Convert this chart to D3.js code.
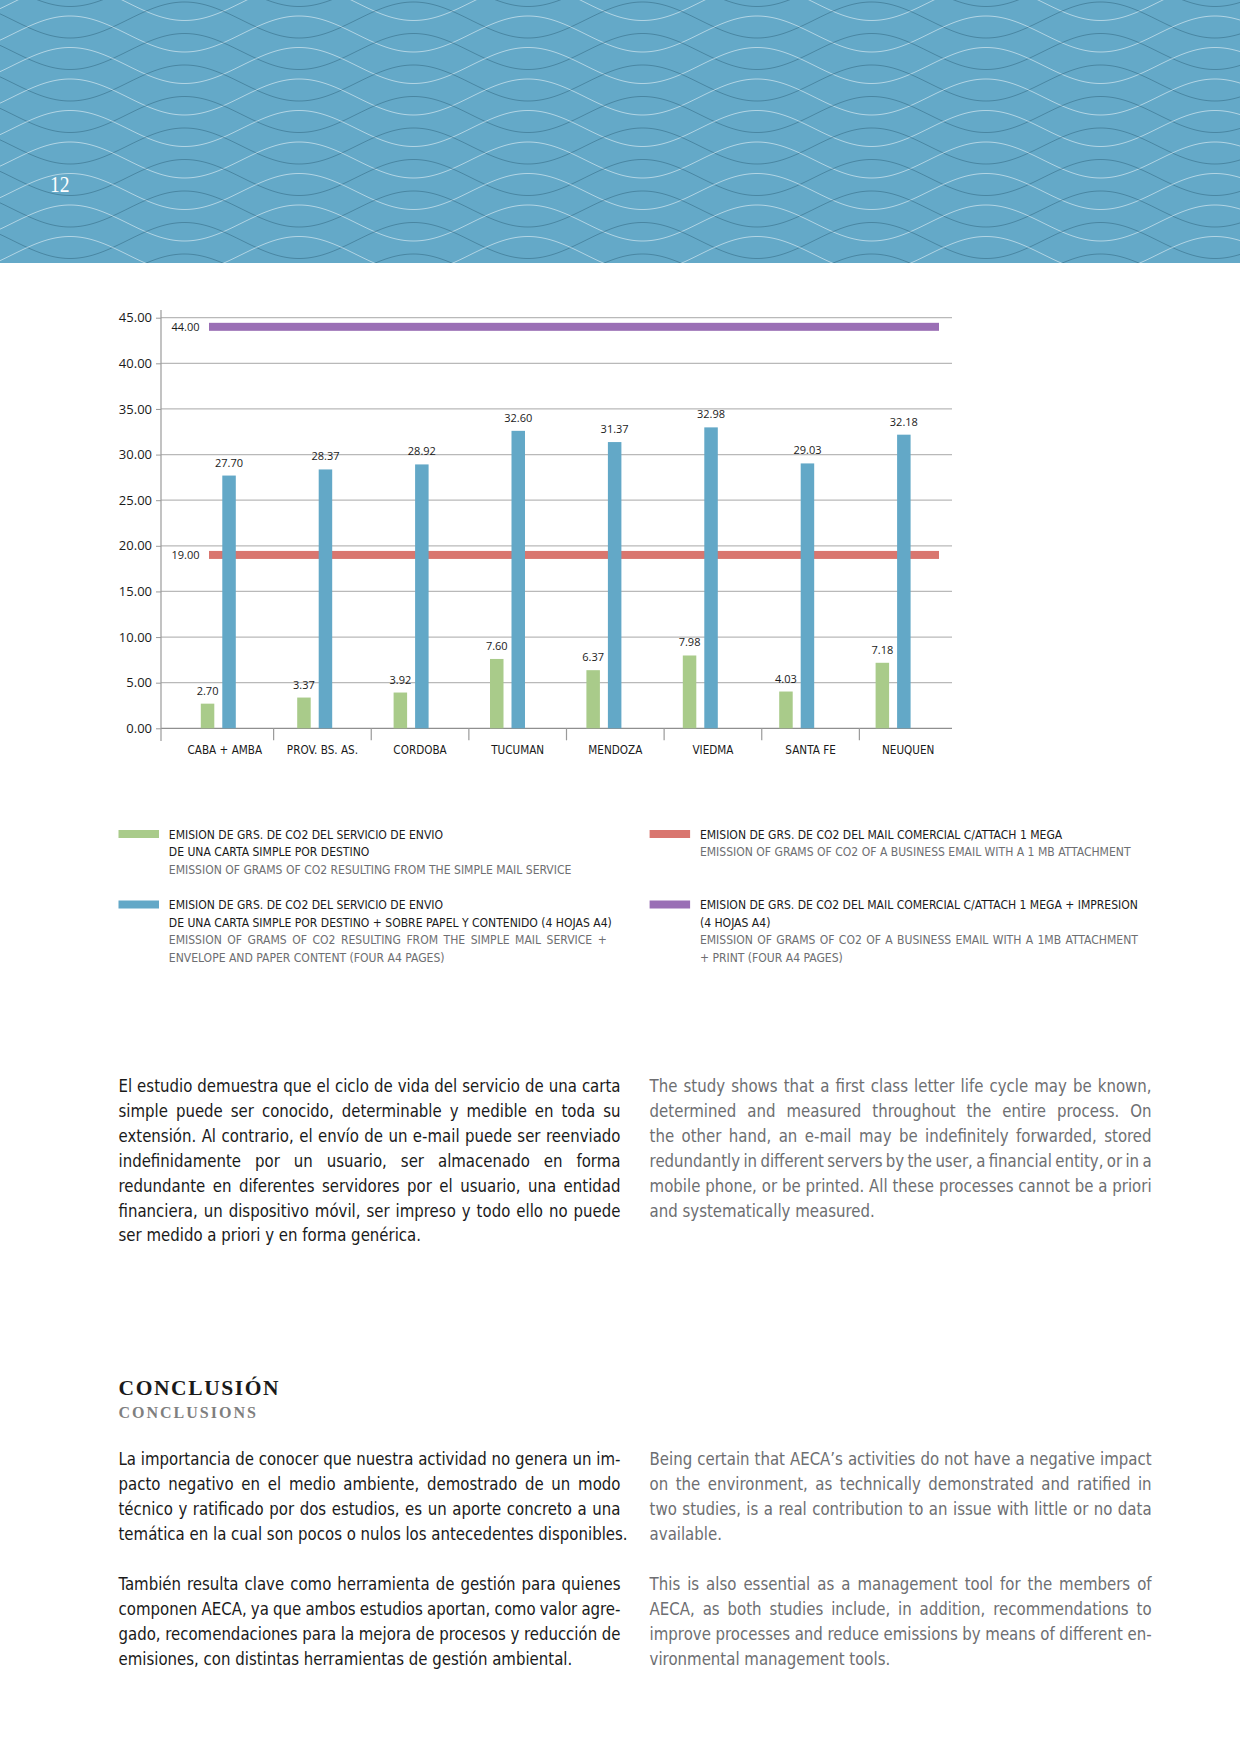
<!DOCTYPE html>
<html><head><meta charset="utf-8">
<script src="https://cdn.jsdelivr.net/npm/d3@7"></script>
<style>
html,body{margin:0;padding:0;background:#fff;}
svg{display:block;}
.cond{font-family:"Liberation Sans Narrow","Arial Narrow","DejaVu Sans Condensed",sans-serif;font-stretch:condensed;}
.num{font-family:"Open Sans","Noto Sans",sans-serif;}
.serif{font-family:"Liberation Serif","DejaVu Serif",serif;}
</style></head>
<body><svg id="page" width="1240" height="1754"></svg>
<script>
// ---------------- DATA ----------------
const categories = ["CABA + AMBA","PROV. BS. AS.","CORDOBA","TUCUMAN","MENDOZA","VIEDMA","SANTA FE","NEUQUEN"];
const simpleMail = [2.70,3.37,3.92,7.60,6.37,7.98,4.03,7.18];
const mailWithPaper = [27.70,28.37,28.92,32.60,31.37,32.98,29.03,32.18];
const emailAttach = 19.00;
const emailAttachPrint = 44.00;
const yTicks = [0,5,10,15,20,25,30,35,40,45];
const seriesKeys = ["simple","paper"];

const legendGreenEs = ["EMISION DE GRS. DE CO2 DEL SERVICIO DE ENVIO","DE UNA CARTA SIMPLE POR DESTINO"];
const legendGreenEn = ["EMISSION OF GRAMS OF CO2 RESULTING FROM THE SIMPLE MAIL SERVICE"];
const legendBlueEs = ["EMISION DE GRS. DE CO2 DEL SERVICIO DE ENVIO","DE UNA CARTA SIMPLE POR DESTINO + SOBRE PAPEL Y CONTENIDO (4 HOJAS A4)"];
const legendBlueEn = ["EMISSION OF GRAMS OF CO2 RESULTING FROM THE SIMPLE MAIL SERVICE +","ENVELOPE AND PAPER CONTENT (FOUR A4 PAGES)"];
const legendRedEs = ["EMISION DE GRS. DE CO2 DEL MAIL COMERCIAL C/ATTACH 1 MEGA"];
const legendRedEn = ["EMISSION OF GRAMS OF CO2 OF A BUSINESS EMAIL WITH A 1 MB ATTACHMENT"];
const legendPurpleEs = ["EMISION DE GRS. DE CO2 DEL MAIL COMERCIAL C/ATTACH 1 MEGA + IMPRESION","(4 HOJAS A4)"];
const legendPurpleEn = ["EMISSION OF GRAMS OF CO2 OF A BUSINESS EMAIL WITH A 1MB ATTACHMENT","+ PRINT (FOUR A4 PAGES)"];

const para1Es = ["El estudio demuestra que el ciclo de vida del servicio de una carta",
"simple puede ser conocido, determinable y medible en toda su",
"extensión. Al contrario, el envío de un e-mail puede ser reenviado",
"indefinidamente por un usuario, ser almacenado en forma",
"redundante en diferentes servidores por el usuario, una entidad",
"financiera, un dispositivo móvil, ser impreso y todo ello no puede",
"ser medido a priori y en forma genérica."];
const para1En = ["The study shows that a first class letter life cycle may be known,",
"determined and measured throughout the entire process. On",
"the other hand, an e-mail may be indefinitely forwarded, stored",
"redundantly in different servers by the user, a financial entity, or in a",
"mobile phone, or be printed. All these processes cannot be a priori",
"and systematically measured."];
const para2Es = ["La importancia de conocer que nuestra actividad no genera un im-",
"pacto negativo en el medio ambiente, demostrado de un modo",
"técnico y ratificado por dos estudios, es un aporte concreto a una",
"temática en la cual son pocos o nulos los antecedentes disponibles."];
const para3Es = ["También resulta clave como herramienta de gestión para quienes",
"componen AECA, ya que ambos estudios aportan, como valor agre-",
"gado, recomendaciones para la mejora de procesos y reducción de",
"emisiones, con distintas herramientas de gestión ambiental."];
const para2En = ["Being certain that AECA’s activities do not have a negative impact",
"on the environment, as technically demonstrated and ratified in",
"two studies, is a real contribution to an issue with little or no data",
"available."];
const para3En = ["This is also essential as a management tool for the members of",
"AECA, as both studies include, in addition, recommendations to",
"improve processes and reduce emissions by means of different en-",
"vironmental management tools."];

// ---------------- STYLE ----------------
const W = 1240;
const C = {green:"#a9cb8a", blue:"#63a8c7", red:"#d9766f", purple:"#9a6fb5", header:"#64a9c8",
           text:"#1a1a1a", grey:"#6d6e71", grid:"#b9b9b9", axis:"#9a9a9a"};
const svg = d3.select("#page");

// ---------------- HEADER ----------------
const header = svg.append("g");
svg.append("defs").append("clipPath").attr("id","hclip").append("rect").attr("width",W).attr("height",263);
header.attr("clip-path","url(#hclip)");
header.append("rect").attr("width",W).attr("height",263).attr("fill",C.header);
const P = 229, A = 18, RS = 31.5;
const xs = d3.range(-10, W + 12, 3);
const wave = (base, sign) => d3.line()(xs.map(x => [x, base + sign * A * Math.cos(2 * Math.PI * (x - 70) / P)]));
d3.range(-3, 11).forEach(k => {
  header.append("path").attr("d", wave(16 - A + RS * k + 22, 1)).attr("fill","none").attr("stroke","rgba(35,85,110,0.42)").attr("stroke-width",1);
  header.append("path").attr("d", wave(16 + A + RS * k, -1)).attr("fill","none").attr("stroke","rgba(255,255,255,0.5)").attr("stroke-width",1);
});
svg.append("text").attr("class","serif").attr("x",0).attr("y",0).attr("font-size",23)
  .attr("fill","#fff").attr("transform","translate(50,192) scale(0.85,1)").text("12");

// ---------------- CHART ----------------
const plotLeft = 161, plotRight = 952;
const y = d3.scaleLinear().domain([0,45]).range([728.3, 317.7]);
const xAxisScale = d3.scaleBand().domain(categories).range([176, 957]);
const xGroup = d3.scaleBand().domain(categories).range([170.1, 941.3]).paddingInner(0.637).paddingOuter(0.3185);
const xSub = d3.scaleBand().domain(seriesKeys).range([0, xGroup.bandwidth()]).paddingInner(0.372);

const chart = svg.append("g");
chart.append("g").selectAll("line").data(yTicks).join("line")
  .attr("x1", plotLeft).attr("x2", plotRight)
  .attr("y1", d => y(d)).attr("y2", d => y(d))
  .attr("stroke", d => d === 0 ? "#8f8f8f" : C.grid).attr("stroke-width", 1.2);

const gy = chart.append("g").attr("transform",`translate(${plotLeft},0)`)
  .call(d3.axisLeft(y).tickValues(yTicks).tickFormat(d3.format(".2f")).tickSize(5).tickSizeOuter(0).tickPadding(4));
gy.select(".domain").remove();
gy.selectAll(".tick line").attr("stroke", C.axis);
gy.selectAll(".tick text").attr("class","num").attr("font-size",13).attr("fill",C.text);
chart.append("line").attr("x1",plotLeft).attr("x2",plotLeft).attr("y1",310).attr("y2",741)
  .attr("stroke",C.axis).attr("stroke-width",1.2);

const gx = chart.append("g").attr("transform",`translate(0,${y(0)})`)
  .call(d3.axisBottom(xAxisScale).tickSize(0).tickPadding(0));
gx.select(".domain").remove();
gx.selectAll(".tick text").attr("class","cond").attr("font-size",12.5).attr("fill",C.text)
  .attr("y",0).attr("dy",0).attr("transform","translate(0,25.5) scale(0.93,1)");
chart.append("g").selectAll("line").data(categories.slice(1)).join("line")
  .attr("x1", d => xAxisScale(d)).attr("x2", d => xAxisScale(d))
  .attr("y1", y(0)).attr("y2", y(0) + 12).attr("stroke", C.axis).attr("stroke-width",1.2);

const refs = [{v: emailAttachPrint, c: C.purple}, {v: emailAttach, c: C.red}];
refs.forEach(r => {
  chart.append("rect").attr("x",209).attr("width",939 - 209).attr("y", y(r.v) - 4).attr("height",8).attr("fill", r.c);
  chart.append("text").attr("class","num").attr("font-size",11).attr("fill",C.text)
    .attr("text-anchor","end").attr("x",199.5).attr("y", y(r.v) + 4.5).text(d3.format(".2f")(r.v));
});

const rows = categories.map((c,i) => ({cat:c, simple: simpleMail[i], paper: mailWithPaper[i]}));
const barColor = {simple: C.green, paper: C.blue};
const groups = chart.append("g").selectAll("g").data(rows).join("g")
  .attr("transform", d => `translate(${xGroup(d.cat)},0)`);
groups.selectAll("rect").data(d => seriesKeys.map(k => ({k, v: d[k]}))).join("rect")
  .attr("x", d => xSub(d.k)).attr("width", xSub.bandwidth())
  .attr("y", d => y(d.v)).attr("height", d => y(0) - y(d.v))
  .attr("fill", d => barColor[d.k]);
groups.selectAll("text").data(d => seriesKeys.map(k => ({k, v: d[k]}))).join("text")
  .attr("class","num").attr("font-size",11).attr("fill",C.text).attr("text-anchor","middle")
  .attr("x", d => xSub(d.k) + xSub.bandwidth()/2).attr("y", d => y(d.v) - 9)
  .text(d => d3.format(".2f")(d.v));

// ---------------- TEXT HELPERS ----------------
function textLine(g, str, x, yy, width, justify, size, fill, sx) {
  const gg = g.append("g").attr("transform", `translate(${x},${yy}) scale(${sx},1)`);
  const t = gg.append("text").attr("class", "cond").attr("font-size", size).attr("fill", fill).attr("x",0).attr("y",0);
  const lw = width / sx;
  if (!justify) { t.text(str); return; }
  const words = str.split(" ");
  const widths = words.map(w => { t.text(w); return t.node().getComputedTextLength(); });
  t.text("");
  const total = d3.sum(widths);
  const gap = (lw - total) / (words.length - 1);
  if (gap < 2) { t.attr("textLength", lw).attr("lengthAdjust","spacingAndGlyphs").text(str); return; }
  let cx = 0;
  words.forEach((w,i) => { t.append("tspan").attr("x", cx).text(w); cx += widths[i] + gap; });
}
function paragraph(g, lines, x, y0, pitch, width, size, fill, sx) {
  lines.forEach((l,i) => textLine(g, l, x, y0 + i*pitch, width, i < lines.length - 1, size, fill, sx));
}

// ---------------- LEGEND ----------------
const leg = svg.append("g");
function legendItem(x, yTop, color, es, en, justEs, justEn) {
  leg.append("rect").attr("x", x).attr("y", yTop - 4).attr("width", 40.5).attr("height", 8).attr("fill", color);
  const tx = x + 50.3, lw = 438, pitch = 17.6;
  let yy = yTop + 4.5;
  es.forEach((l,i) => { textLine(leg, l, tx, yy, lw, justEs[i], 12.5, C.text, 0.965); yy += pitch; });
  en.forEach((l,i) => { textLine(leg, l, tx, yy, lw, justEn[i], 12.5, C.grey, 0.965); yy += pitch; });
}
legendItem(118.5, 834, C.green, legendGreenEs, legendGreenEn, [false,false], [false]);
legendItem(118.5, 904.5, C.blue, legendBlueEs, legendBlueEn, [false,false], [true,false]);
legendItem(649.6, 834, C.red, legendRedEs, legendRedEn, [false], [false]);
legendItem(649.6, 904.5, C.purple, legendPurpleEs, legendPurpleEn, [true,false], [true,false]);

// ---------------- BODY TEXT ----------------
const body = svg.append("g");
const colL = 118.5, colR = 649.6, colW = 502, fs = 18, bsx = 0.925;
paragraph(body, para1Es, colL, 1092, 24.9, colW, fs, C.text, bsx);
paragraph(body, para1En, colR, 1092, 24.9, colW, fs, C.grey, bsx);

body.append("text").attr("class","serif").attr("x",118.5).attr("y",1394.5).attr("font-size",21.5)
  .attr("font-weight","bold").attr("letter-spacing",1.6).attr("fill",C.text).text("CONCLUSIÓN");
body.append("text").attr("class","serif").attr("x",118.5).attr("y",1417.5).attr("font-size",16)
  .attr("font-weight","bold").attr("letter-spacing",2).attr("fill","#7f7f7f").text("CONCLUSIONS");

paragraph(body, para2Es, colL, 1465, 25, colW, fs, C.text, bsx);
paragraph(body, para3Es, colL, 1590, 25, colW, fs, C.text, bsx);
paragraph(body, para2En, colR, 1465, 25, colW, fs, C.grey, bsx);
paragraph(body, para3En, colR, 1590, 25, colW, fs, C.grey, bsx);
</script>
</body></html>
